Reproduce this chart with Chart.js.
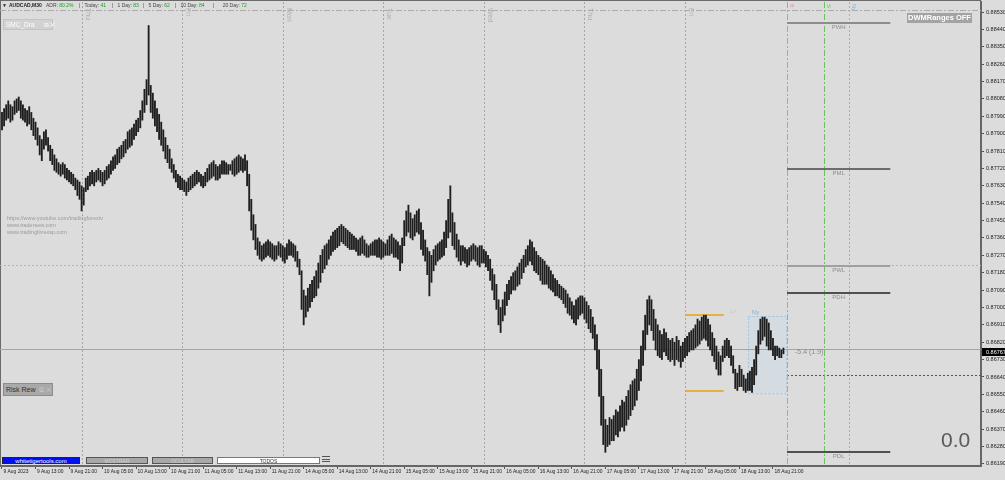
<!DOCTYPE html>
<html>
<head>
<meta charset="utf-8">
<script src="https://cdn.jsdelivr.net/npm/chart.js@4.4.1/dist/chart.umd.min.js"></script>
<style>
  body { margin: 0; background: #dcdcdc; font-family: "Liberation Sans", Arial, sans-serif; }
  #box { position: relative; width: 1005px; height: 480px; overflow: hidden; }
  #c { position: absolute; left: 0; top: 0; }
  .t { position: absolute; white-space: pre; line-height: 1; }
  .g { color: #1c9c1c; }
  .btn { position: absolute; height: 7px; font-size: 5px; line-height: 6px; text-align: center; box-sizing: border-box; }
</style>
</head>
<body>
<div id="box">
  <canvas id="c" width="1005" height="480"></canvas>

  <!-- header -->
  <div class="t" style="left:2px;top:3px;font-size:5px;color:#222">▼</div>
  <div class="t" style="left:9px;top:3px;font-size:5px;font-weight:bold;color:#222">AUDCAD,M30</div>
  <div class="t" style="left:46px;top:3px;font-size:5px;color:#444">ADR: <span class="g">80.2%</span></div>
  <div class="t" style="left:79px;top:3px;font-size:5px;color:#444">|   Today: <span class="g">41</span></div>
  <div class="t" style="left:112px;top:3px;font-size:5px;color:#444">|   1 Day: <span class="g">83</span></div>
  <div class="t" style="left:143px;top:3px;font-size:5px;color:#444">|   5 Day: <span class="g">62</span></div>
  <div class="t" style="left:175px;top:3px;font-size:5px;color:#444">|   10 Day: <span class="g">84</span></div>
  <div class="t" style="left:213px;top:3px;font-size:5px;color:#444">|      20 Day: <span class="g">72</span></div>

  <div class="t" style="left:3px;top:19px;width:50px;height:11px;background:#d2d2d2;border:1px solid #c4c4c4;box-sizing:border-box;font-size:6.5px;line-height:9px;color:#fff;padding-left:2px">SMC_Dra     ⧉ ✕</div>

  <div class="t" style="left:7px;top:215px;font-size:5.5px;line-height:7px;color:#9a9a9a">https://www.youtube.com/tradingforextv
www.tradersew.com
www.tradingforexsp.com</div>

  <div class="t" style="left:3px;top:383px;width:50px;height:13px;background:#a9a9a9;border:1px solid #8c8c8c;box-sizing:border-box;font-size:7px;line-height:11px;color:#333;padding-left:2px">Risk Rew  <span style="color:#c8c8c8">⧉ ✕</span></div>

  <div class="t" style="left:907px;top:13px;width:65px;height:10px;background:#a3a3a3;font-size:7.5px;line-height:10px;font-weight:bold;color:#fff;text-align:center">DWMRanges OFF</div>

  <div class="t" style="left:941px;top:429px;font-size:21px;color:#5a5a5a">0.0</div>
  <div class="t" style="left:795px;top:348px;font-size:7px;color:#8a8a8a">-5.4 (1.9)</div>

  <div class="btn" style="left:2px;top:457px;width:78px;background:#0010f0;border:1px solid #223;color:#fff;font-size:6px">whitetigertools.com</div>
  <div class="btn" style="left:86px;top:457px;width:62px;background:#a8a8a8;border:1px solid #555;color:#cfcfcf">MOSTRAR</div>
  <div class="btn" style="left:152px;top:457px;width:61px;background:#a8a8a8;border:1px solid #555;color:#cfcfcf">OCULTAR</div>
  <div class="btn" style="left:217px;top:457px;width:103px;background:#fff;border:1px solid #777;color:#333">TODOS</div>
  <div class="t" style="left:322px;top:456px;width:8px;height:2px;border-top:1px solid #555;border-bottom:1px solid #555"></div>
  <div class="t" style="left:322px;top:461px;width:8px;height:2px;border-top:1px solid #555"></div>
</div>

<script>
// AUDCAD M30 bars, 9 Aug 05:00 .. 18 Aug 23:30 (one entry per bar)
const barHigh = [
  0.8801,0.8803,0.8805,0.8807,0.8805,0.8804,0.8807,0.8808,0.8809,0.8807,
  0.8805,0.8803,0.8802,0.8804,0.8801,0.8798,0.8796,0.8793,0.8789,0.8787,
  0.8791,0.8792,0.8788,0.8784,0.8782,0.8779,0.8777,0.8775,0.8774,0.8775,
  0.8774,0.8772,0.8771,0.8770,0.8769,0.8767,0.8766,0.8765,0.8763,0.8762,
  0.8767,0.8768,0.8770,0.8771,0.8770,0.8771,0.8772,0.8771,0.8770,0.8771,
  0.8773,0.8774,0.8776,0.8778,0.8779,0.8782,0.8783,0.8784,0.8786,0.8787,
  0.8791,0.8792,0.8793,0.8795,0.8797,0.8798,0.8802,0.8807,0.8813,0.8818,
  0.8846,0.8815,0.8811,0.8807,0.8803,0.8800,0.8796,0.8792,0.8788,0.8784,
  0.8782,0.8777,0.8774,0.8771,0.8769,0.8768,0.8767,0.8766,0.8765,0.8767,
  0.8768,0.8769,0.8770,0.8771,0.8770,0.8769,0.8768,0.8770,0.8772,0.8774,
  0.8775,0.8776,0.8774,0.8773,0.8774,0.8776,0.8776,0.8775,0.8774,0.8774,
  0.8776,0.8777,0.8778,0.8779,0.8778,0.8777,0.8779,0.8776,0.8769,0.8756,
  0.8748,0.8743,0.8736,0.8734,0.8732,0.8733,0.8734,0.8735,0.8734,0.8733,
  0.8732,0.8732,0.8734,0.8733,0.8732,0.8731,0.8733,0.8735,0.8734,0.8733,
  0.8732,0.8729,0.8725,0.8719,0.8709,0.8706,0.8710,0.8712,0.8714,0.8716,
  0.8719,0.8723,0.8727,0.8730,0.8732,0.8733,0.8735,0.8737,0.8739,0.8740,
  0.8741,0.8742,0.8743,0.8742,0.8741,0.8740,0.8739,0.8738,0.8737,0.8736,
  0.8735,0.8736,0.8737,0.8735,0.8733,0.8732,0.8733,0.8734,0.8735,0.8735,
  0.8736,0.8735,0.8734,0.8733,0.8735,0.8737,0.8738,0.8736,0.8735,0.8734,
  0.8732,0.8736,0.8745,0.8750,0.8753,0.8749,0.8746,0.8748,0.8750,0.8751,
  0.8744,0.8740,0.8735,0.8731,0.8729,0.8727,0.8730,0.8732,0.8733,0.8734,
  0.8735,0.8739,0.8745,0.8756,0.8763,0.8749,0.8744,0.8738,0.8735,0.8732,
  0.8732,0.8731,0.8730,0.8731,0.8732,0.8733,0.8732,0.8731,0.8732,0.8732,
  0.8730,0.8729,0.8727,0.8725,0.8720,0.8717,0.8712,0.8704,0.8700,0.8704,
  0.8708,0.8712,0.8714,0.8716,0.8718,0.8719,0.8721,0.8723,0.8725,0.8727,
  0.8730,0.8732,0.8735,0.8734,0.8731,0.8729,0.8727,0.8726,0.8725,0.8724,
  0.8722,0.8721,0.8719,0.8717,0.8715,0.8714,0.8712,0.8711,0.8710,0.8709,
  0.8707,0.8705,0.8703,0.8701,0.8704,0.8705,0.8706,0.8706,0.8705,0.8703,
  0.8701,0.8699,0.8695,0.8691,0.8686,0.8678,0.8668,0.8654,0.8642,0.8639,
  0.8643,0.8642,0.8644,0.8647,0.8646,0.8649,0.8652,0.8651,0.8654,0.8657,
  0.8660,0.8662,0.8663,0.8668,0.8673,0.8680,0.8688,0.8696,0.8704,0.8706,
  0.8704,0.8699,0.8694,0.8691,0.8688,0.8686,0.8689,0.8687,0.8684,0.8683,
  0.8684,0.8682,0.8685,0.8683,0.8680,0.8682,0.8684,0.8685,0.8687,0.8688,
  0.8689,0.8691,0.8694,0.8693,0.8695,0.8696,0.8696,0.8694,0.8691,0.8687,
  0.8684,0.8680,0.8677,0.8675,0.8680,0.8683,0.8684,0.8683,0.8680,0.8675,
  0.8668,0.8666,0.8670,0.8668,0.8665,0.8663,0.8666,0.8667,0.8669,0.8673,
  0.8680,0.8688,0.8694,0.8695,0.8695,0.8694,0.8692,0.8688,0.8684,0.8680,
  0.8680,0.8679,0.8678,0.8679
];
const barLow = [
  0.8792,0.8794,0.8797,0.8798,0.8796,0.8797,0.8800,0.8801,0.8802,0.8798,
  0.8797,0.8796,0.8794,0.8795,0.8792,0.8789,0.8787,0.8784,0.8779,0.8776,
  0.8782,0.8784,0.8781,0.8776,0.8774,0.8771,0.8770,0.8769,0.8768,0.8769,
  0.8767,0.8766,0.8765,0.8764,0.8763,0.8761,0.8758,0.8756,0.8750,0.8753,
  0.8760,0.8761,0.8763,0.8764,0.8763,0.8765,0.8766,0.8765,0.8763,0.8764,
  0.8766,0.8767,0.8769,0.8771,0.8772,0.8774,0.8775,0.8777,0.8778,0.8780,
  0.8782,0.8783,0.8784,0.8787,0.8789,0.8791,0.8793,0.8797,0.8801,0.8805,
  0.8810,0.8801,0.8798,0.8794,0.8791,0.8787,0.8784,0.8781,0.8777,0.8775,
  0.8772,0.8770,0.8767,0.8765,0.8762,0.8761,0.8761,0.8760,0.8758,0.8760,
  0.8761,0.8762,0.8763,0.8764,0.8765,0.8763,0.8762,0.8763,0.8765,0.8766,
  0.8767,0.8768,0.8766,0.8766,0.8767,0.8769,0.8769,0.8769,0.8769,0.8771,
  0.8769,0.8768,0.8769,0.8770,0.8771,0.8770,0.8771,0.8763,0.8750,0.8740,
  0.8735,0.8730,0.8727,0.8725,0.8724,0.8725,0.8726,0.8727,0.8726,0.8725,
  0.8724,0.8725,0.8727,0.8726,0.8724,0.8723,0.8725,0.8727,0.8727,0.8726,
  0.8724,0.8721,0.8717,0.8699,0.8691,0.8695,0.8698,0.8700,0.8703,0.8705,
  0.8706,0.8710,0.8713,0.8718,0.8720,0.8722,0.8725,0.8727,0.8729,0.8730,
  0.8731,0.8732,0.8734,0.8733,0.8732,0.8731,0.8730,0.8730,0.8730,0.8729,
  0.8727,0.8727,0.8728,0.8727,0.8726,0.8726,0.8727,0.8727,0.8727,0.8726,
  0.8726,0.8725,0.8726,0.8727,0.8727,0.8727,0.8728,0.8726,0.8726,0.8725,
  0.8719,0.8723,0.8732,0.8737,0.8739,0.8736,0.8735,0.8737,0.8739,0.8738,
  0.8730,0.8727,0.8724,0.8717,0.8706,0.8713,0.8719,0.8722,0.8724,0.8725,
  0.8726,0.8727,0.8731,0.8736,0.8739,0.8732,0.8730,0.8726,0.8724,0.8722,
  0.8724,0.8723,0.8721,0.8722,0.8724,0.8725,0.8724,0.8722,0.8721,0.8723,
  0.8723,0.8721,0.8719,0.8714,0.8709,0.8704,0.8699,0.8691,0.8687,0.8693,
  0.8696,0.8701,0.8704,0.8707,0.8709,0.8709,0.8711,0.8712,0.8715,0.8718,
  0.8721,0.8722,0.8724,0.8722,0.8719,0.8718,0.8717,0.8714,0.8712,0.8712,
  0.8712,0.8710,0.8709,0.8708,0.8706,0.8706,0.8705,0.8704,0.8702,0.8700,
  0.8697,0.8696,0.8694,0.8692,0.8691,0.8694,0.8696,0.8697,0.8694,0.8692,
  0.8689,0.8687,0.8684,0.8678,0.8668,0.8654,0.8639,0.8629,0.8625,0.8628,
  0.8629,0.8631,0.8631,0.8634,0.8633,0.8636,0.8638,0.8636,0.8639,0.8642,
  0.8644,0.8647,0.8649,0.8652,0.8657,0.8662,0.8670,0.8678,0.8686,0.8691,
  0.8688,0.8683,0.8678,0.8675,0.8674,0.8673,0.8677,0.8675,0.8673,0.8672,
  0.8673,0.8670,0.8673,0.8672,0.8669,0.8672,0.8674,0.8675,0.8677,0.8678,
  0.8678,0.8679,0.8680,0.8681,0.8683,0.8684,0.8683,0.8680,0.8678,0.8675,
  0.8672,0.8668,0.8665,0.8665,0.8672,0.8674,0.8675,0.8674,0.8670,0.8666,
  0.8658,0.8657,0.8659,0.8659,0.8657,0.8656,0.8657,0.8657,0.8656,0.8660,
  0.8665,0.8676,0.8681,0.8683,0.8685,0.8680,0.8678,0.8678,0.8675,0.8673,
  0.8675,0.8674,0.8674,0.8676
];

// time axis labels, every 16 bars
const timeLabels = ['9 Aug 2023','9 Aug 13:00','9 Aug 21:00','10 Aug 05:00','10 Aug 13:00','10 Aug 21:00',
  '11 Aug 05:00','11 Aug 13:00','11 Aug 21:00','14 Aug 05:00','14 Aug 13:00','14 Aug 21:00',
  '15 Aug 05:00','15 Aug 13:00','15 Aug 21:00','16 Aug 05:00','16 Aug 13:00','16 Aug 21:00',
  '17 Aug 05:00','17 Aug 13:00','17 Aug 21:00','18 Aug 05:00','18 Aug 13:00','18 Aug 21:00'];
const timeLabelBars = timeLabels.map((_, i) => i * 16);

const priceTicks = [0.86190,0.86280,0.86370,0.86460,0.86550,0.86640,0.86730,0.86820,0.86910,0.87000,
  0.87090,0.87180,0.87270,0.87360,0.87450,0.87540,0.87630,0.87720,0.87810,0.87900,0.87990,0.88080,
  0.88170,0.88260,0.88350,0.88440,0.88530];
const lastPrice = 0.86767;

// day separators (bar index of midnight) and their names
const daySepBars = [38, 86, 134, 182, 230, 278, 326];
const dayNames = ['Thu','Fri','Mon','Tue','Wed','Thu','Fri'];

// previous week / day levels
const levelNames = ['PWH','PML','PWL','PDH','PDL'];
const levelValues = [0.88473, 0.87717, 0.87215, 0.87075, 0.86252];
const levelColors = ['#8c8c8c','#6c6c6c','#a0a0a0','#505050','#505050'];
const levelFrom = 374.7, levelTo = 424;

// other horizontal lines
const topLine = 0.88540, midDotLine = 0.87222, lowDotLine = 0.86650, bidLine = 0.86784;

// session markers
const sessionBars = [374.7, 392.4, 404.3];
const sessionColors = ['#e88a9a','#6cc060','#8ab8dc'];
const sessionNames = ['8','S','Ny'];

// London / NY boxes
const lnHigh = 0.86961, lnLow = 0.86568, lnFrom = 326, lnTo = 344.5;
const nyHigh = 0.86956, nyLow = 0.86556, nyFrom = 356, nyTo = 374.3;

const overlay = {
  id: 'overlay',
  beforeDatasetsDraw(chart) {
    const { ctx, chartArea: a, scales: { x, y } } = chart;
    ctx.save();
    // frame top/left
    ctx.fillStyle = '#6a6a6a';
    ctx.fillRect(0, 0, a.right, 1);
    ctx.fillRect(0, 0, 1, a.bottom);

    // boxes
    ctx.fillStyle = 'rgba(205,220,232,0.55)';
    ctx.fillRect(x.getPixelForValue(nyFrom), y.getPixelForValue(nyHigh),
      x.getPixelForValue(nyTo) - x.getPixelForValue(nyFrom), y.getPixelForValue(nyLow) - y.getPixelForValue(nyHigh));
    ctx.strokeStyle = '#9cc4e4'; ctx.lineWidth = 1; ctx.setLineDash([2, 2]);
    ctx.strokeRect(Math.round(x.getPixelForValue(nyFrom)) + 0.5, Math.round(y.getPixelForValue(nyHigh)) + 0.5,
      x.getPixelForValue(nyTo) - x.getPixelForValue(nyFrom), y.getPixelForValue(nyLow) - y.getPixelForValue(nyHigh));
    ctx.setLineDash([]);
    ctx.strokeStyle = '#e8b040'; ctx.lineWidth = 2;
    [lnHigh, lnLow].forEach(v => {
      const py = Math.round(y.getPixelForValue(v));
      ctx.beginPath(); ctx.moveTo(x.getPixelForValue(lnFrom), py); ctx.lineTo(x.getPixelForValue(lnTo), py); ctx.stroke();
    });
    ctx.font = '6px "Liberation Sans", Arial';
    ctx.fillStyle = '#c8c8c8'; ctx.textBaseline = 'bottom';
    ctx.fillText('Ln', x.getPixelForValue(lnTo) + 6, y.getPixelForValue(lnHigh) - 1);
    ctx.fillStyle = '#7aaedc';
    ctx.fillText('Ny', x.getPixelForValue(nyFrom) + 4, y.getPixelForValue(nyHigh) - 1);

    // day separators
    ctx.strokeStyle = '#a6a6a6'; ctx.lineWidth = 1; ctx.setLineDash([2, 2]);
    daySepBars.forEach((b, i) => {
      const px = Math.round(x.getPixelForValue(b)) + 0.5;
      ctx.beginPath(); ctx.moveTo(px, a.top); ctx.lineTo(px, a.bottom); ctx.stroke();
      ctx.save();
      ctx.translate(px + 2, 8);
      ctx.rotate(Math.PI / 2);
      ctx.fillStyle = '#b0b0b0'; ctx.font = '7px "Liberation Sans", Arial';
      ctx.textBaseline = 'bottom';
      ctx.fillText(dayNames[i], 0, 0);
      ctx.restore();
    });

    // horizontal helper lines
    const hline = (v, color, dash, x0, x1, w) => {
      const py = Math.round(y.getPixelForValue(v)) + 0.5;
      ctx.strokeStyle = color; ctx.lineWidth = w || 1; ctx.setLineDash(dash);
      ctx.beginPath(); ctx.moveTo(x0, py); ctx.lineTo(x1, py); ctx.stroke();
    };
    hline(topLine, '#ababab', [6, 2, 2, 2], a.left, a.right);
    hline(midDotLine, '#b4b4b4', [2, 2], a.left, a.right);
    hline(bidLine, '#a4a4a4', [], a.left, a.right);
    hline(lowDotLine, '#555555', [2, 2], x.getPixelForValue(levelFrom), a.right);

    // session vertical lines
    sessionBars.forEach((b, i) => {
      const px = Math.round(x.getPixelForValue(b)) + 0.5;
      ctx.strokeStyle = sessionColors[i]; ctx.lineWidth = 1;
      ctx.setLineDash(i === 2 ? [2, 2] : [6, 2, 2, 2]);
      ctx.beginPath(); ctx.moveTo(px, a.top); ctx.lineTo(px, a.bottom); ctx.stroke();
      ctx.save();
      ctx.translate(px + 1, 4);
      ctx.rotate(Math.PI / 2);
      ctx.fillStyle = sessionColors[i]; ctx.font = '6px "Liberation Sans", Arial';
      ctx.textBaseline = 'bottom';
      ctx.fillText(sessionNames[i], 0, 0);
      ctx.restore();
    });
    ctx.setLineDash([]);

    // level lines
    levelValues.forEach((v, i) => {
      const py = Math.round(y.getPixelForValue(v));
      const x0 = x.getPixelForValue(levelFrom), x1 = x.getPixelForValue(levelTo);
      ctx.strokeStyle = levelColors[i]; ctx.lineWidth = 2;
      ctx.beginPath(); ctx.moveTo(x0, py); ctx.lineTo(x1, py); ctx.stroke();
      ctx.fillStyle = '#8e8e8e'; ctx.font = '6px "Liberation Sans", Arial';
      ctx.textAlign = 'center'; ctx.textBaseline = 'top';
      ctx.fillText(levelNames[i], (x0 + x1) / 2, py + 1);
      ctx.textAlign = 'left';
    });
    ctx.restore();
  },
  afterDraw(chart) {
    const { ctx, chartArea: a, scales: { y } } = chart;
    const py = Math.round(y.getPixelForValue(lastPrice));
    ctx.save();
    ctx.fillStyle = '#000';
    ctx.fillRect(a.right + 1, py - 4, 23, 8);
    ctx.fillStyle = '#fff';
    ctx.font = '5.5px "Liberation Sans", Arial';
    ctx.textBaseline = 'middle';
    ctx.fillText(lastPrice.toFixed(5), a.right + 5, py);
    ctx.restore();
  }
};

const tickFont = { family: '"Liberation Sans", Arial, sans-serif', size: 5.5 };

new Chart(document.getElementById('c'), {
  data: {
    datasets: [{
      type: 'bar',
      data: barHigh.map((h, i) => ({ x: i, y: [barLow[i], h] })),
      backgroundColor: '#1e1e1e',
      borderWidth: 0,
      barThickness: 1.2,
      minBarLength: 1
    }]
  },
  options: {
    responsive: false,
    animation: false,
    devicePixelRatio: 1,
    layout: { padding: { top: 2, left: 0, right: 0, bottom: 0 } },
    plugins: { legend: { display: false }, tooltip: { enabled: false } },
    scales: {
      x: {
        type: 'linear',
        offset: false,
        bounds: 'data',
        min: -0.95,
        max: 467.3,
        afterBuildTicks: s => { s.ticks = timeLabelBars.map(v => ({ value: v })); },
        afterFit: s => { s.height = 14; s.paddingLeft = 0; s.paddingRight = 0; },
        ticks: {
          autoSkip: false, maxRotation: 0, align: 'start', labelOffset: 1.5, padding: 0,
          font: { family: '"Liberation Sans", Arial, sans-serif', size: 4.9 }, color: '#222',
          callback: (v, i) => timeLabels[i]
        },
        grid: { offset: false, drawOnChartArea: false, drawTicks: true, tickLength: 3, color: '#555' },
        border: { color: '#666', width: 2 }
      },
      y: {
        position: 'right',
        min: 0.86179,
        max: 0.88582,
        afterBuildTicks: s => { s.ticks = priceTicks.map(v => ({ value: v })); },
        afterFit: s => { s.width = 24; s.paddingTop = 0; s.paddingBottom = 0; },
        ticks: {
          autoSkip: false, padding: 2, font: tickFont, color: '#222',
          callback: v => v.toFixed(5)
        },
        grid: { drawOnChartArea: false, drawTicks: true, tickLength: 3, color: '#555' },
        border: { color: '#666', width: 2 }
      }
    }
  },
  plugins: [overlay]
});
</script>
</body>
</html>
